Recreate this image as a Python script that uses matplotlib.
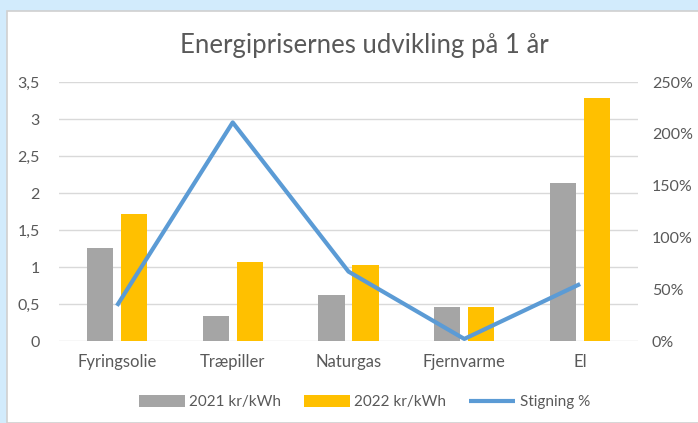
import matplotlib.pyplot as plt
import numpy as np
from matplotlib.patches import Rectangle
from matplotlib.ticker import FuncFormatter

plt.rcParams['font.family'] = ['Lato', 'DejaVu Sans']

categories = ["Fyringsolie", "Træpiller", "Naturgas", "Fjernvarme", "El"]
price_2021 = [1.26, 0.34, 0.62, 0.455, 2.13]
price_2022 = [1.71, 1.07, 1.03, 0.455, 3.29]
stigning = [34, 211, 67, 2, 55]

TXT = "#595959"
GRID = "#D9D9D9"

fig = plt.figure(figsize=(6.98, 4.23), dpi=100)
fig.patch.set_facecolor("#D2EBFC")
# white chart area with a thin grey edge
fig.patches.append(Rectangle((7 / 698, 0), 1, 1 - 11 / 423, transform=fig.transFigure,
                             facecolor="white", edgecolor="#D0D0D0", linewidth=1.2, zorder=-5))

ax = fig.add_axes([59 / 698, 1 - 341 / 423, (638 - 59) / 698, (341 - 82) / 423])
ax.set_facecolor("none")
x = np.arange(len(categories))
w = 0.225
ax.bar(x - 0.147, price_2021, w, color="#A5A5A5", label="2021 kr/kWh", zorder=2)
ax.bar(x + 0.147, price_2022, w, color="#FFC000", label="2022 kr/kWh", zorder=2)
ax.set_xlim(-0.5, 4.5)
ax.set_ylim(0, 3.5)
ax.set_yticks(np.arange(0, 3.51, 0.5))
ax.yaxis.set_major_formatter(FuncFormatter(lambda v, p: f"{v:g}".replace(".", ",")))
ax.set_xticks(x)
ax.set_xticklabels(categories)
ax.grid(axis="y", color=GRID, linewidth=1, zorder=0)
for s in ax.spines.values():
    s.set_visible(False)
ax.tick_params(length=0, labelsize=11.5, labelcolor=TXT)
ax.tick_params(axis="y", pad=14)
ax.tick_params(axis="x", labelsize=12, pad=9)

ax2 = ax.twinx()
ax2.plot(x, stigning, color="#5B9BD5", linewidth=3, label="Stigning %", zorder=3,
         solid_capstyle="butt")
ax2.set_ylim(0, 250)
ax2.set_yticks(np.arange(0, 251, 50))
ax2.yaxis.set_major_formatter(FuncFormatter(lambda v, p: f"{v:.0f}%"))
for s in ax2.spines.values():
    s.set_visible(False)
ax2.tick_params(length=0, labelsize=11.5, labelcolor=TXT, pad=10)

fig.text(0.522, 1 - 45 / 423, "Energiprisernes udvikling på 1 år", ha="center", va="center",
         fontsize=18.5, color=TXT)

h1, l1 = ax.get_legend_handles_labels()
h2, l2 = ax2.get_legend_handles_labels()
fig.legend(h1 + h2, l1 + l2, loc="center", bbox_to_anchor=(0.522, 1 - 402 / 423), ncol=3,
           frameon=False, fontsize=11, labelcolor=TXT, handlelength=3.0, handleheight=0.8,
           columnspacing=1.5, handletextpad=0.3)

fig.savefig("out.png", dpi=100, facecolor=fig.get_facecolor())
